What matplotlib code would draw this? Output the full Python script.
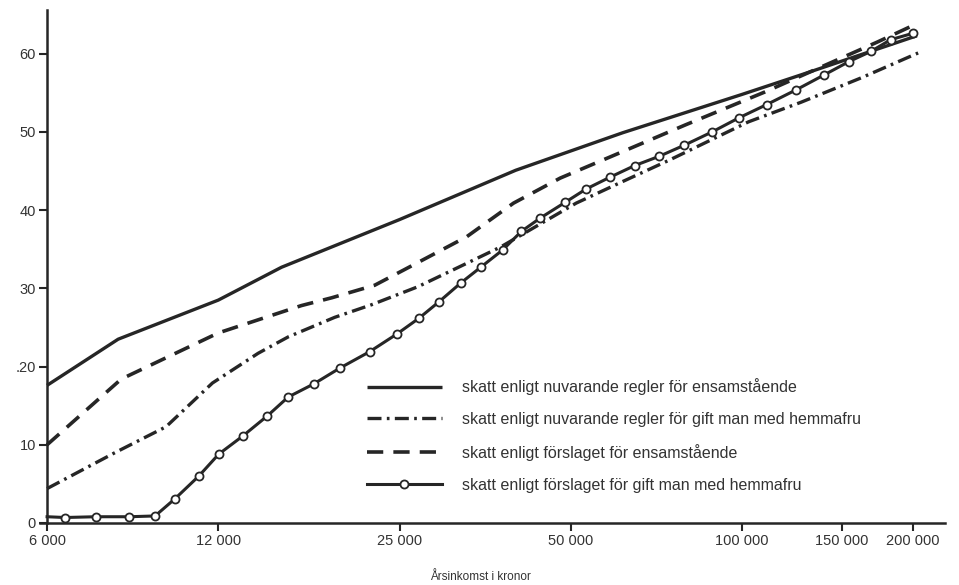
import numpy as np
import matplotlib.pyplot as plt
from matplotlib.ticker import FixedLocator, NullLocator

plt.rcParams['font.family'] = ['Liberation Sans', 'DejaVu Sans']

# ---- data (income in kronor, tax in percent) ----
solid_x = [6000, 8000, 12000, 15500, 25000, 40000, 61700, 100000, 127000, 203000]
solid_y = [17.6, 23.5, 28.5, 32.7, 38.8, 45.1, 49.9, 54.8, 57.3, 62.3]

dashdot_x = [6000, 7900, 9710, 11720, 14100, 15930, 19230, 22300, 26900, 32800,
             37650, 51100, 61000, 74500, 102700, 127000, 161800, 204000]
dashdot_y = [4.4, 9.0, 12.3, 17.9, 21.7, 23.8, 26.3, 27.9, 30.2, 33.2,
             35.3, 40.9, 43.5, 46.4, 51.3, 53.8, 56.9, 60.1]

dashed_x = [6000, 8100, 12000, 16800, 19000, 22600, 25500, 32800, 39650, 47900,
            58600, 79500, 109600, 173000, 203700]
dashed_y = [10.0, 18.4, 24.3, 27.8, 28.8, 30.4, 32.4, 36.6, 40.9, 44.1,
            46.8, 50.9, 55.1, 61.5, 63.9]

circ_x = [6000, 6450, 7300, 8370, 9290, 10070, 11090, 12020, 13240, 14640, 15920,
          17680, 19620, 22140, 24770, 27060, 29340, 32040, 34720, 37930, 40950,
          44200, 48870, 53180, 58540, 64750, 71580, 79130, 88580, 98720, 110500,
          124600, 139500, 154200, 168500, 182600, 199400]
circ_y = [0.8, 0.7, 0.8, 0.8, 0.9, 3.1, 6.0, 8.8, 11.1, 13.7, 16.1,
          17.8, 19.8, 21.9, 24.2, 26.2, 28.3, 30.7, 32.7, 34.9, 37.3,
          39.0, 41.0, 42.7, 44.2, 45.7, 46.9, 48.3, 50.0, 51.8, 53.5,
          55.4, 57.3, 59.0, 60.3, 61.8, 62.6]

xticks = [6000, 12000, 25000, 50000, 100000, 150000, 200000]
xtick_labels = ["6 000", "12 000", "25 000", "50 000", "100 000", "150 000", "200 000"]
yticks = [0, 10, 20, 30, 40, 50, 60]
ytick_labels = ["0", "10", ".20", "30", "40", "50", "60"]

labels = [
    "skatt enligt nuvarande regler för ensamstående",
    "skatt enligt nuvarande regler för gift man med hemmafru",
    "skatt enligt förslaget för ensamstående",
    "skatt enligt förslaget för gift man med hemmafru",
]

ink = "#262626"

fig = plt.figure(figsize=(9.59, 5.85), dpi=100)
ax = fig.add_axes([0.0417, 0.106, 0.944, 0.877])

ax.plot(solid_x, solid_y, color=ink, lw=2.4, solid_capstyle='butt', label=labels[0])
ax.plot(dashdot_x, dashdot_y, color=ink, lw=2.4, dash_capstyle='butt',
        linestyle=(0, (4.2, 1.6, 0.8, 1.6)), label=labels[1])
ax.plot(dashed_x, dashed_y, color=ink, lw=2.6, dash_capstyle='butt',
        linestyle=(0, (4.5, 2.8)), label=labels[2])
ax.plot(circ_x, circ_y, color=ink, lw=2.2, marker='o', markersize=5.8,
        markerfacecolor='white', markeredgecolor=ink, markeredgewidth=1.3,
        markevery=list(range(1, len(circ_x))), label=labels[3])

ax.set_xscale('log')
ax.set_xlim(5830, 227700)
ax.set_ylim(0, 65.6)

ax.xaxis.set_major_locator(FixedLocator(xticks))
ax.xaxis.set_minor_locator(NullLocator())
ax.set_xticklabels(xtick_labels)
ax.set_yticks(yticks)
ax.set_yticklabels(ytick_labels)

ax.spines['top'].set_visible(False)
ax.spines['right'].set_visible(False)
ax.spines['left'].set_position(('data', 6000))
ax.spines['left'].set_linewidth(1.8)
ax.spines['bottom'].set_linewidth(1.8)
ax.spines['left'].set_color(ink)
ax.spines['bottom'].set_color(ink)

ax.tick_params(axis='both', direction='out', length=6, width=1.5, color=ink,
               labelsize=10.5, labelcolor='#333333', pad=2)

fig.text(480 / 959, 1 - 577 / 585, "Årsinkomst i kronor", fontsize=8.5,
         color='#333333', ha='center', va='center')

ax.legend(loc='upper left', bbox_to_anchor=(0.345, 0.31), frameon=False,
          handlelength=4.7, handletextpad=1.25, labelspacing=1.05, fontsize=11.5,
          labelcolor='#333333')

fig.savefig("out.png", dpi=100, facecolor='white')
